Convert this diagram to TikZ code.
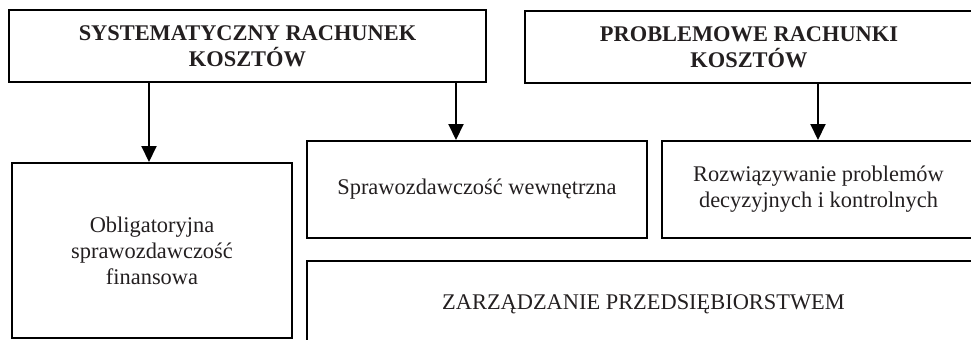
\documentclass[tikz,border=0pt]{standalone}
\usepackage{fontspec}
\setmainfont{Liberation Serif}
\usetikzlibrary{arrows.meta}
\definecolor{ink}{HTML}{231F20}
\tikzset{
  box/.style={draw=black, line width=1pt, rectangle, inner sep=0pt, align=center,
    text=ink, font=\fontsize{11.2pt}{13pt}\selectfont},
  headbox/.style={box, font=\fontsize{11.2pt}{13pt}\selectfont\bfseries},
  arr/.style={draw=black, line width=1pt, -{Triangle[width=7.5pt,length=8pt]}}
}
\begin{document}
\begin{tikzpicture}[x=0.5pt,y=-0.5pt]
  \path[use as bounding box] (0,0) rectangle (971,339);
  \clip (0,0) rectangle (971,339);
  % top level: the two kinds of cost accounting
  \node[headbox, minimum width=238.5pt, minimum height=36pt] (sys) at (247.5,46)
    {SYSTEMATYCZNY RACHUNEK\\KOSZTÓW};
  \node[headbox, minimum width=224pt, minimum height=36pt] (prob) at (749,47)
    {PROBLEMOWE RACHUNKI\\KOSZTÓW};
  % purposes
  \node[box, minimum width=140pt, minimum height=87.5pt] (obl) at (152,250.5)
    {Obligatoryjna\\sprawozdawczość\\finansowa};
  \node[box, minimum width=170pt, minimum height=48.5pt] (spr) at (477,189.5)
    {Sprawozdawczość wewnętrzna};
  \node[box, minimum width=156.5pt, minimum height=48.5pt] (roz) at (818.5,189.5)
    {Rozwiązywanie problemów\\decyzyjnych i kontrolnych};
  \node[box, minimum width=336.5pt, minimum height=43.5pt] (zarz) at (643.5,304.5)
    {ZARZĄDZANIE PRZEDSIĘBIORSTWEM};
  % connectors
  \draw[arr] (sys.south -| 149,0) -- (obl.north -| 149,0);
  \draw[arr] (sys.south -| 456,0) -- (spr.north -| 456,0);
  \draw[arr] (prob.south -| 818,0) -- (roz.north -| 818,0);
\end{tikzpicture}
\end{document}
